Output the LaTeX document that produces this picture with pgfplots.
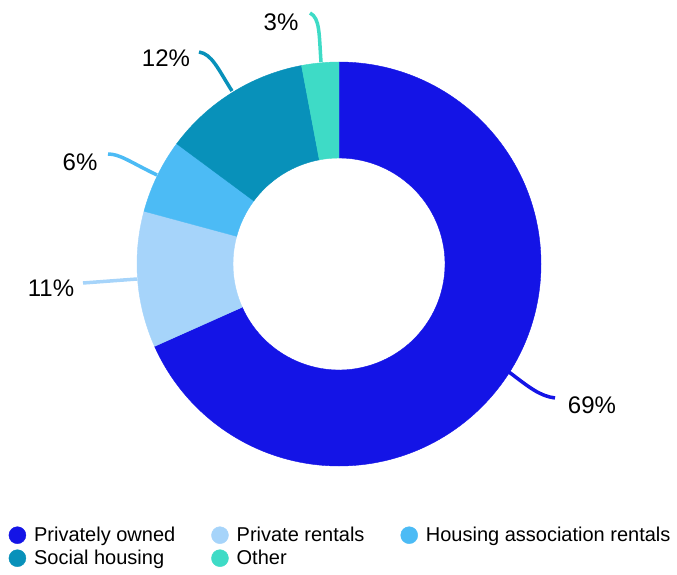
\documentclass[border=0pt]{standalone}
\usepackage{pgfplots}
\pgfplotsset{compat=1.18}
\usepackage{fontspec}
\setmainfont{Liberation Sans}
\definecolor{ownedc}{HTML}{1414E6}
\definecolor{rentc}{HTML}{A6D4FA}
\definecolor{hac}{HTML}{4CBBF5}
\definecolor{socialc}{HTML}{0891BA}
\definecolor{otherc}{HTML}{3EDBC6}

% one donut slice: colour, cumulative share before it, share (total 101)
\newcommand{\slice}[3]{%
  \fill[#1, draw=#1, line width=0.4pt]
    (axis cs:{339+202*cos(90-#2/101*360)},{310+202*sin(90-#2/101*360)})
    arc[start angle={90-#2/101*360}, end angle={90-(#2+#3)/101*360}, radius=202]
    -- (axis cs:{339+106*cos(90-(#2+#3)/101*360)},{310+106*sin(90-(#2+#3)/101*360)})
    arc[start angle={90-(#2+#3)/101*360}, end angle={90-#2/101*360}, radius=106]
    -- cycle;}

\begin{document}
\begin{tikzpicture}
\begin{axis}[
  x=1pt, y=1pt, scale only axis,
  xmin=0, xmax=677, ymin=0, ymax=574,
  hide axis, clip=false,
  legend columns=3,
  legend cell align=left,
  legend style={draw=none, fill=none, inner sep=0pt,
    at={(axis cs:8.5,48)}, anchor=north west,
    font=\fontsize{20}{22}\selectfont,
    nodes={inner xsep=2pt, inner ysep=1pt},
    /tikz/every odd column/.append style={column sep=6pt},
    /tikz/every even column/.append style={column sep=34pt},
    row sep=5pt},
]
\path (axis cs:0,0) rectangle (axis cs:677,574);

\slice{ownedc}{0}{69}
\slice{rentc}{69}{11}
\slice{hac}{80}{6}
\slice{socialc}{86}{12}
\slice{otherc}{98}{3}

% leader lines
\draw[otherc, line width=3.5pt] (321,512) .. controls (319,540) and (320,556) .. (310,561);
\draw[socialc, line width=3.5pt] (232,483) .. controls (218,505) and (212,520) .. (199,522);
\draw[hac, line width=3.5pt] (157,399) .. controls (130,412) and (120,420) .. (108,420);
\draw[rentc, line width=3.5pt] (137,295) -- (83,291);
\draw[ownedc, line width=3.5pt] (509,202) .. controls (530,186) and (540,178) .. (555,176);

% labels
\node[font=\fontsize{24}{28}\selectfont] at (281,552) {3\%};
\node[font=\fontsize{24}{28}\selectfont] at (166,516) {12\%};
\node[font=\fontsize{24}{28}\selectfont] at (80,412) {6\%};
\node[font=\fontsize{24}{28}\selectfont] at (51,286) {11\%};
\node[font=\fontsize{24}{28}\selectfont] at (592,169) {69\%};

\addlegendimage{legend image code/.code={\fill[ownedc] (8.5pt,0pt) circle[radius=8.5pt];}}
\addlegendentry{Privately owned}
\addlegendimage{legend image code/.code={\fill[rentc] (8.5pt,0pt) circle[radius=8.5pt];}}
\addlegendentry{Private rentals}
\addlegendimage{legend image code/.code={\fill[hac] (8.5pt,0pt) circle[radius=8.5pt];}}
\addlegendentry{Housing association rentals}
\addlegendimage{legend image code/.code={\fill[socialc] (8.5pt,0pt) circle[radius=8.5pt];}}
\addlegendentry{Social housing}
\addlegendimage{legend image code/.code={\fill[otherc] (8.5pt,0pt) circle[radius=8.5pt];}}
\addlegendentry{Other}
\end{axis}
\end{tikzpicture}
\end{document}
